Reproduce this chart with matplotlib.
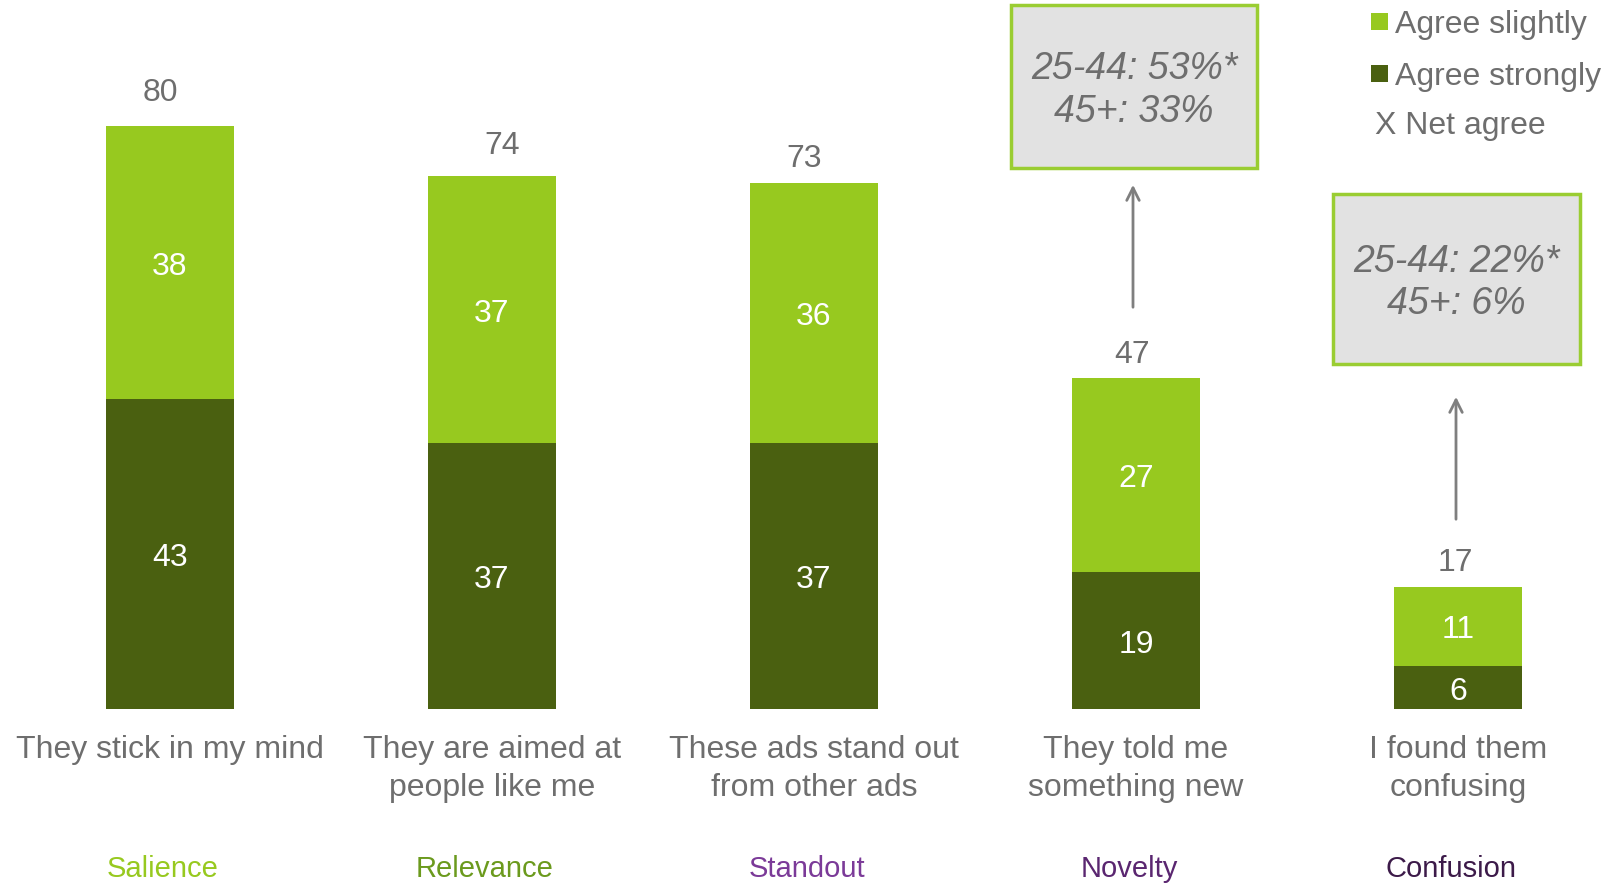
import numpy as np
import matplotlib.pyplot as plt
import matplotlib.transforms as mtransforms
from matplotlib.patches import Rectangle

plt.rcParams['font.family'] = ['Liberation Sans', 'DejaVu Sans']

# ---- data ----
statements = [
    "They stick in my mind",
    "They are aimed at\npeople like me",
    "These ads stand out\nfrom other ads",
    "They told me\nsomething new",
    "I found them\nconfusing",
]
dimensions = ["Salience", "Relevance", "Standout", "Novelty", "Confusion"]
agree_strongly = [43, 37, 37, 19, 6]
agree_slightly = [38, 37, 36, 27, 11]
net_agree = [80, 74, 73, 47, 17]
age_notes = {
    3: ["25-44: 53%*", "45+: 33%"],
    4: ["25-44: 22%*", "45+: 6%"],
}

# ---- style ----
LIGHT = "#97C91F"
DARK = "#4A6010"
GREY = "#6E6E6E"
dim_colors = ["#97C91F", "#6B9A1D", "#7B3A98", "#5A2670", "#3C1A49"]
net_nudge = [(-10, 18), (10, 16), (-10, 12), (-4, 11), (-3, 11)]

W, H = 1606, 883
fig = plt.figure(figsize=(W / 100, H / 100), dpi=100)
ax = fig.add_axes([0, 0, 1, 1])

# pixel transform (origin top-left) for the call-out boxes and legend
pix = mtransforms.Affine2D().scale(1 / W, -1 / H).translate(0, 1) + fig.transFigure

base_px, ppu, x0, step = 709, 7.2, 170, 322
ax.set_xlim(-x0 / step, (W - x0) / step)
ax.set_ylim(-(H - base_px) / ppu, base_px / ppu)
ax.axis("off")

x = np.arange(len(statements))
strong = np.array(agree_strongly)
slight = np.array(agree_slightly)

ax.bar(x, strong, width=0.4, color=DARK, label="Agree strongly")
ax.bar(x, slight, width=0.4, bottom=strong, color=LIGHT, label="Agree slightly")

inner = dict(ha="center", va="center", color="white", fontsize=23,
             textcoords="offset points", xytext=(0, -3))
for i in x:
    ax.annotate(str(strong[i]), (i, strong[i] / 2), **inner)
    ax.annotate(str(slight[i]), (i, strong[i] + slight[i] / 2), **inner)
    dx, dy = net_nudge[i]
    ax.annotate(str(net_agree[i]), (i, strong[i] + slight[i]),
                xytext=(dx * 0.72, dy), textcoords="offset points",
                ha="center", va="baseline", color=GREY, fontsize=23)
    ax.text(i, -3.6, statements[i], ha="center", va="top", color=GREY,
            fontsize=23, linespacing=1.33)
    ax.text(i - 0.022, -22.2, dimensions[i], ha="center", va="center",
            color=dim_colors[i], fontsize=21)

# call-out boxes with age splits
boxes = {3: (1011, 5, 246, 163), 4: (1333, 194, 247, 170)}
arrows = {3: (1133, 310, 182), 4: (1456, 522, 394)}
for i, lines in age_notes.items():
    bx, by, bw, bh = boxes[i]
    ax.add_patch(Rectangle((bx, by), bw, bh, transform=pix, clip_on=False,
                           facecolor="#E2E2E2", edgecolor="#9ACD32",
                           linewidth=2.5))
    cx = bx + bw / 2
    ax.text(cx, by + bh / 2 + 4, "\n".join(lines), transform=pix,
            ha="center", va="center", style="italic", color=GREY,
            fontsize=27, linespacing=1.25, zorder=5)
    ax_, y_from, y_to = arrows[i]
    ax.annotate("", xy=(ax_, y_to), xycoords=pix, xytext=(ax_, y_from),
                textcoords=pix,
                arrowprops=dict(arrowstyle="->,head_length=0.9,head_width=0.45",
                                color="#7F7F7F", lw=2))

# legend
for y_px, col, lab in [(13, LIGHT, "Agree slightly"), (65, DARK, "Agree strongly")]:
    ax.add_patch(Rectangle((1371, y_px), 17, 17, transform=pix, clip_on=False,
                           facecolor=col, edgecolor="none"))
    ax.text(1395, y_px + 12, lab, transform=pix, ha="left", va="center",
            color=GREY, fontsize=23)
ax.text(1375, 126, "X Net agree", transform=pix, ha="left", va="center",
        color=GREY, fontsize=23)

fig.savefig("out.png", dpi=100)
